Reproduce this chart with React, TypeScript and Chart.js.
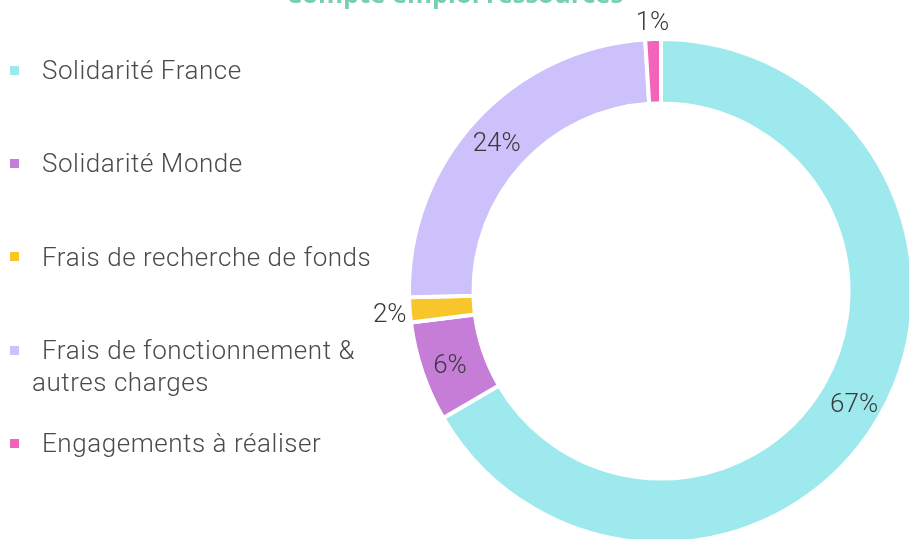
import React, { useEffect, useRef } from "react";
import { Chart, registerables } from "chart.js";

Chart.register(...registerables);

const TITLE = "Compte emploi ressources";
const categories = [
  "Solidarité France",
  "Solidarité Monde",
  "Frais de recherche de fonds",
  "Frais de fonctionnement & autres charges",
  "Engagements à réaliser",
];
const values = [66.6, 6.4, 1.6, 24.4, 1.0];
const pctLabels = ["67%", "6%", "2%", "24%", "1%"];
const colors = ["#9de9ed", "#c67dd8", "#f8c62a", "#cdc1fb", "#f263b9"];

const FONT = "Roboto, 'Noto Sans', sans-serif";

const labelPlugin = {
  id: "pctLabels",
  afterDatasetsDraw(chart: any) {
    const ctx = chart.ctx;
    const meta = chart.getDatasetMeta(0);
    ctx.save();
    ctx.font = `300 26px ${FONT}`;
    ctx.fillStyle = "#3a3a3a";
    ctx.textAlign = "center";
    ctx.textBaseline = "middle";
    meta.data.forEach((arc: any, i: number) => {
      const p = arc.getProps(["x", "y", "startAngle", "endAngle", "innerRadius", "outerRadius"], true);
      const mid = (p.startAngle + p.endAngle) / 2;
      const v = values[i];
      const r = v < 3 ? p.outerRadius + 20 : (p.innerRadius + p.outerRadius) / 2 + 3;
      ctx.fillText(pctLabels[i], p.x + Math.cos(mid) * r, p.y + Math.sin(mid) * r + 4);
    });
    ctx.restore();
  },
};

export default function App() {
  const ref = useRef<HTMLCanvasElement | null>(null);
  useEffect(() => {
    if (!ref.current) return;
    const chart = new Chart(ref.current, {
      type: "doughnut",
      data: {
        labels: categories,
        datasets: [
          {
            data: values,
            backgroundColor: colors,
            borderColor: "#ffffff",
            borderWidth: 4,
          },
        ],
      },
      options: {
        responsive: false,
        animation: false,
        radius: 252,
        cutout: 192,
        layout: { padding: { left: 401, right: 19, top: 31, bottom: 49 } },
        plugins: {
          legend: { display: false },
          tooltip: { enabled: false },
          title: { display: false },
        },
      } as any,
      plugins: [labelPlugin],
    });
    return () => chart.destroy();
  }, []);

  const itemTop = (i: number) => 54 + 93.3 * i;

  return (
    <div
      style={{
        position: "fixed",
        left: 0,
        top: 0,
        width: 909,
        height: 539,
        overflow: "hidden",
        background: "#ffffff",
      }}
    >
      <canvas
        ref={ref}
        width={940}
        height={600}
        style={{ position: "absolute", left: 0, top: 0, width: 940, height: 600 }}
      />
      <div
        style={{
          position: "absolute",
          left: 0,
          top: -25,
          width: 909,
          textAlign: "center",
          fontFamily: "'Open Sans', sans-serif",
          fontWeight: 700,
          fontSize: 25.5,
          lineHeight: "36px",
          color: "#76cfb5",
        }}
      >
        {TITLE}
      </div>
      {categories.map((c, i) => (
        <div
          key={c}
          style={{
            position: "absolute",
            left: 0,
            top: itemTop(i),
            width: 385,
            paddingLeft: 32,
            boxSizing: "border-box",
            fontFamily: FONT,
            fontWeight: 300,
            fontSize: 26,
            lineHeight: "32px",
            color: "#4a4a4a",
            letterSpacing: 0.55,
          }}
        >
          <span
            style={{
              display: "inline-block",
              width: 9,
              height: 9,
              background: colors[i],
              marginLeft: -22,
              marginRight: 23,
              verticalAlign: "middle",
              position: "relative",
              top: -2,
            }}
          />
          {c}
        </div>
      ))}
    </div>
  );
}
